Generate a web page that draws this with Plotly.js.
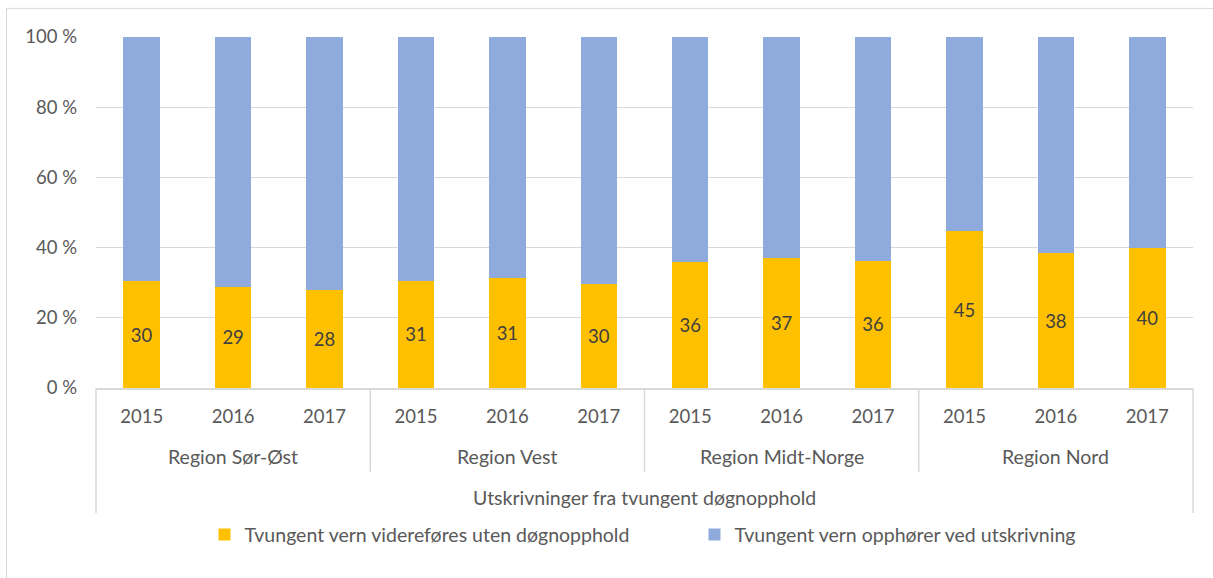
<!DOCTYPE html>
<html>
<head>
<meta charset="utf-8">
<script src="https://cdn.plot.ly/plotly-3.0.1.min.js"></script>
<style>html,body{margin:0;padding:0;background:#fff;}#chart{width:1213px;height:578px;}</style>
</head>
<body>
<div id="chart"></div>
<script>
const regions = ["Region Sør-Øst", "Region Vest", "Region Midt-Norge", "Region Nord"];
const years = ["2015", "2016", "2017"];
const groupTitle = "Utskrivninger fra tvungent døgnopphold";
const seriesNames = ["Tvungent vern videreføres uten døgnopphold", "Tvungent vern opphører ved utskrivning"];
// share (%) per region-year, in order Sør-Øst 2015..2017, Vest, Midt-Norge, Nord
const videreføres = [30.4, 28.9, 27.8, 30.6, 31.2, 29.6, 36.0, 36.9, 36.3, 44.7, 38.4, 39.8];
const opphører   = [69.6, 71.1, 72.2, 69.4, 68.8, 70.4, 64.0, 63.1, 63.7, 55.3, 61.6, 60.2];
const yTickVals = [0, 20, 40, 60, 80, 100];
const yTickText = ["0 %", "20 %", "40 %", "60 %", "80 %", "100 %"];

const cats = [];
const catYears = [];
regions.forEach(r => years.forEach(y => { cats.push(r + " " + y); catYears.push(y); }));

const FONT = "Lato, 'Open Sans', sans-serif";
const GRID = "#d9d9d9";
const NUMSIZE = 18.5;
const TXTSIZE = 19.5;

const traces = [
  {
    type: "bar", name: seriesNames[0], x: cats, y: videreføres,
    marker: { color: "#FFC000" },
    texttemplate: "%{y:.0f}", textposition: "inside", insidetextanchor: "middle",
    textfont: { family: FONT, size: NUMSIZE, color: "#404040" },
    constraintext: "none", hoverinfo: "skip"
  },
  {
    type: "bar", name: seriesNames[1], x: cats, y: opphører,
    marker: { color: "#8FAADC" }, hoverinfo: "skip"
  }
];

const n = cats.length;
const shapes = [];
shapes.push({ type: "line", xref: "paper", yref: "paper", x0: 0, x1: 0, y0: 0, y1: -0.356, line: { color: GRID, width: 1.5 } });
shapes.push({ type: "line", xref: "paper", yref: "paper", x0: 1, x1: 1, y0: 0, y1: -0.356, line: { color: GRID, width: 1.5 } });
for (let g = 1; g < regions.length; g++) {
  const px = g * years.length / n;
  shapes.push({ type: "line", xref: "paper", yref: "paper", x0: px, x1: px, y0: 0, y1: -0.2385, line: { color: GRID, width: 1.5 } });
}
shapes.push({ type: "rect", xref: "paper", yref: "paper", x0: -0.0816, x1: 1.2, y0: -0.8, y1: 1.0815, line: { color: GRID, width: 1 }, fillcolor: "rgba(0,0,0,0)", layer: "below" });

const annotations = regions.map((r, i) => ({
  text: r, xref: "x", yref: "paper", x: i * years.length + (years.length - 1) / 2, y: -0.196,
  xanchor: "center", yanchor: "middle", showarrow: false,
  font: { family: FONT, size: TXTSIZE, color: "#595959" }
}));
annotations.push({
  text: groupTitle, xref: "paper", yref: "paper", x: 0.5, y: -0.313,
  xanchor: "center", yanchor: "middle", showarrow: false,
  font: { family: FONT, size: TXTSIZE, color: "#595959" }
});

const layout = {
  width: 1213, height: 578,
  margin: { l: 96, r: 20, t: 37, b: 190 },
  paper_bgcolor: "#ffffff", plot_bgcolor: "#ffffff",
  barmode: "stack", bargap: 0.6,
  font: { family: FONT, size: TXTSIZE, color: "#595959" },
  showlegend: true,
  legend: {
    orientation: "h", x: 0.0989, xanchor: "left", y: -0.418, yanchor: "middle",
    font: { family: FONT, size: TXTSIZE, color: "#595959" }, entrywidth: 445, traceorder: "normal"
  },
  xaxis: {
    type: "category", tickvals: cats, ticktext: catYears,
    showgrid: false, showline: true, linecolor: GRID, linewidth: 1.5,
    ticks: "", ticklabelstandoff: 11, zeroline: false,
    tickfont: { family: FONT, size: NUMSIZE, color: "#595959" }
  },
  yaxis: {
    range: [0, 100], tickvals: yTickVals, ticktext: yTickText,
    showgrid: true, gridcolor: GRID, gridwidth: 1.3, zeroline: false,
    showline: false, ticks: "", ticklabelstandoff: 18,
    tickfont: { family: FONT, size: NUMSIZE, color: "#595959" }
  },
  shapes: shapes,
  annotations: annotations
};

Plotly.newPlot("chart", traces, layout, { displayModeBar: false, staticPlot: true });
</script>
</body>
</html>
